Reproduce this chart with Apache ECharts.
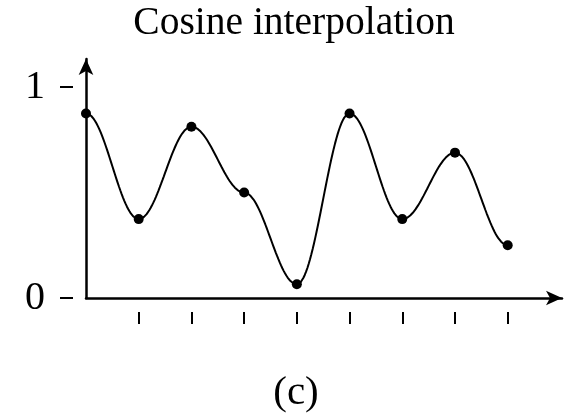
<!DOCTYPE html>
<html>
<head>
<meta charset="utf-8">
<script src="https://cdn.jsdelivr.net/npm/echarts@6/dist/echarts.min.js"></script>
<style>
  html, body { margin: 0; padding: 0; background: #fff; }
  #chart { width: 580px; height: 417px; }
</style>
</head>
<body>
<div id="chart"></div>
<script>
// Knot positions and values
const knotX = [0, 1, 2, 3, 4, 5, 6, 7, 8];
const knotY = [0.875, 0.374, 0.812, 0.50, 0.065, 0.875, 0.374, 0.689, 0.25];
const xTickValues = [1, 2, 3, 4, 5, 6, 7, 8];
const yTickValues = [0, 1];
const yTickLabels = ['0', '1'];
const titleText = 'Cosine interpolation';
const captionText = '(c)';

// Cosine interpolation between consecutive knots
function cosineCurve(xs, ys, steps) {
  const out = [];
  for (let i = 0; i < xs.length - 1; i++) {
    for (let s = 0; s < steps; s++) {
      const mu = s / steps;
      const mu2 = (1 - Math.cos(mu * Math.PI)) / 2;
      out.push([xs[i] + (xs[i + 1] - xs[i]) * mu, ys[i] * (1 - mu2) + ys[i + 1] * mu2]);
    }
  }
  out.push([xs[xs.length - 1], ys[ys.length - 1]]);
  return out;
}

const serif = '"Liberation Serif", "DejaVu Serif", serif';
const X_MAX = 9.03;
const Y_MAX = 1.133;

const chart = echarts.init(document.getElementById('chart'), null, { renderer: 'canvas' });
chart.setOption({
  animation: false,
  backgroundColor: '#ffffff',
  title: {
    text: titleText,
    left: 289,
    top: -1,
    textAlign: 'center',
    textStyle: { fontFamily: serif, fontWeight: 'normal', fontSize: 39.5, color: '#000' }
  },
  graphic: [{
    type: 'text',
    x: 296,
    y: 393,
    style: { text: captionText, font: '41px ' + serif, fill: '#000', align: 'center', verticalAlign: 'middle' }
  }],
  grid: { left: 86, right: 18, top: 59, bottom: 119, containLabel: false },
  xAxis: [{
    type: 'value', min: 0, max: X_MAX,
    axisLine: { show: true, onZero: false, symbol: ['none', 'arrow'], symbolSize: [11, 16], lineStyle: { color: '#000', width: 2.5 } },
    axisTick: { show: false }, axisLabel: { show: false }, splitLine: { show: false }
  }, {
    type: 'value', min: 0, max: X_MAX, position: 'bottom', offset: 14,
    axisLine: { show: false, onZero: false },
    axisTick: { show: true, length: 12, customValues: xTickValues, lineStyle: { color: '#000', width: 2 } },
    axisLabel: { show: false }, splitLine: { show: false }
  }],
  yAxis: [{
    type: 'value', min: 0, max: Y_MAX,
    axisLine: { show: true, onZero: false, symbol: ['none', 'arrow'], symbolSize: [11, 16], lineStyle: { color: '#000', width: 2.5 } },
    axisTick: { show: false }, axisLabel: { show: false }, splitLine: { show: false }
  }, {
    type: 'value', min: 0, max: Y_MAX, position: 'left', offset: 13,
    axisLine: { show: false, onZero: false },
    axisTick: { show: true, length: 13, customValues: yTickValues, lineStyle: { color: '#000', width: 2 } },
    axisLabel: {
      show: true, customValues: yTickValues, margin: 28,
      formatter: v => yTickLabels[yTickValues.indexOf(v)],
      fontFamily: serif, fontSize: 40, color: '#000'
    },
    splitLine: { show: false }
  }],
  series: [{
    type: 'line',
    data: cosineCurve(knotX, knotY, 40),
    showSymbol: false,
    lineStyle: { color: '#000', width: 2 },
    silent: true
  }, {
    type: 'scatter',
    data: knotX.map((x, i) => [x, knotY[i]]),
    symbol: 'circle',
    symbolSize: 10,
    itemStyle: { color: '#000', opacity: 1 },
    z: 3
  }]
});
</script>
</body>
</html>
